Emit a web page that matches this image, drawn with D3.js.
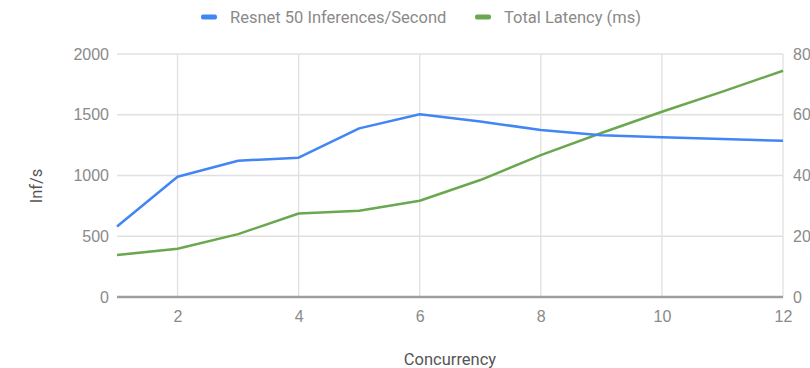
<!DOCTYPE html>
<html>
<head>
<meta charset="utf-8">
<script src="https://cdn.jsdelivr.net/npm/d3@7"></script>
<style>
  body { margin: 0; background: #fff; }
  svg { font-family: Roboto, sans-serif; }
  .tick text { fill: #8a8a8a; font-size: 16px; }
</style>
</head>
<body>
<svg id="svg_chart" width="810" height="368"></svg>
<script>

// data
const concurrency = [1, 2, 3, 4, 5, 6, 7, 8, 9, 10, 11, 12];
const inferences = [580, 990, 1122, 1147, 1388, 1504, 1445, 1374, 1332, 1314, 1300, 1286];
const latency = [13.8, 15.9, 20.7, 27.5, 28.4, 31.7, 38.5, 46.7, 54, 61, 67.6, 74.5];
const xTicks = [2, 4, 6, 8, 10, 12];
const leftTicks = [0, 500, 1000, 1500, 2000];
const rightTicks = [0, 20, 40, 60, 80];
const seriesNames = ['Resnet 50 Inferences/Second', 'Total Latency (ms)'];

const blue = '#4285f4', green = '#6aa84f', grey = '#8a8a8a';

const svg = d3.select('#svg_chart');
const padLeft = 117, padRight = 27, padTop = 54, padBottom = 71;
const width = 810, height = 368;
const innerWidth = width - padLeft - padRight;
const innerHeight = height - padTop - padBottom;

const g = svg.append('g').attr('transform', `translate(${padLeft},${padTop})`);

// scales
const x = d3.scaleLinear().domain([1, 12]).range([0, innerWidth]);
const yL = d3.scaleLinear().domain([0, 2000]).range([innerHeight, 0]);
const yR = d3.scaleLinear().domain([0, 80]).range([innerHeight, 0]);

// grid
g.append('g').selectAll('line').data(leftTicks.slice(1))
  .join('line')
  .attr('x1', 0).attr('x2', innerWidth)
  .attr('y1', d => yL(d)).attr('y2', d => yL(d))
  .attr('stroke', '#e0e0e0').attr('stroke-width', 1.3);

g.append('g').selectAll('line').data(xTicks)
  .join('line')
  .attr('x1', d => x(d)).attr('x2', d => x(d))
  .attr('y1', 0).attr('y2', innerHeight)
  .attr('stroke', '#e0e0e0').attr('stroke-width', 1.3);

// axes
const leftAxis = g.append('g')
  .call(d3.axisLeft(yL).tickValues(leftTicks).tickFormat(d3.format('d')).tickSize(0).tickPadding(8));
leftAxis.select('.domain').remove();

const rightAxis = g.append('g')
  .attr('transform', `translate(${innerWidth},0)`)
  .call(d3.axisRight(yR).tickValues(rightTicks).tickSize(0).tickPadding(10));
rightAxis.select('.domain').remove();

const bottomAxis = g.append('g')
  .attr('transform', `translate(0,${innerHeight})`)
  .call(d3.axisBottom(x).tickValues(xTicks).tickSize(0).tickPadding(14));
bottomAxis.select('.domain').remove();

// baseline
g.append('line')
  .attr('x1', 0).attr('x2', innerWidth)
  .attr('y1', innerHeight).attr('y2', innerHeight)
  .attr('stroke', '#9e9e9e').attr('stroke-width', 2.5);

// lines
const lineL = d3.line().x((d, i) => x(concurrency[i])).y(d => yL(d));
const lineR = d3.line().x((d, i) => x(concurrency[i])).y(d => yR(d));

g.append('path').datum(latency)
  .attr('d', lineR)
  .attr('fill', 'none').attr('stroke', green).attr('stroke-width', 2.5)
  .attr('stroke-linejoin', 'round');

g.append('path').datum(inferences)
  .attr('d', lineL)
  .attr('fill', 'none').attr('stroke', blue).attr('stroke-width', 2.5)
  .attr('stroke-linejoin', 'round');

// axis titles
svg.append('text')
  .text('Concurrency')
  .attr('x', 450).attr('y', 365)
  .attr('text-anchor', 'middle')
  .attr('fill', '#555').style('font-size', '16.5px');

svg.append('text')
  .text('Inf/s')
  .attr('transform', 'translate(42,186) rotate(-90)')
  .attr('text-anchor', 'middle')
  .attr('fill', '#555').style('font-size', '16.5px');

// legend
const legendX = [201, 475];
const legend = svg.append('g').selectAll('g').data(seriesNames)
  .join('g')
  .attr('transform', (d, i) => `translate(${legendX[i]},17)`);

legend.append('rect')
  .attr('x', 0).attr('y', -2.5).attr('width', 16).attr('height', 5).attr('rx', 2)
  .attr('fill', (d, i) => [blue, green][i]);

legend.append('text')
  .text(d => d)
  .attr('x', 29).attr('y', 6)
  .attr('fill', grey).style('font-size', '16.5px');

</script>
</body>
</html>
